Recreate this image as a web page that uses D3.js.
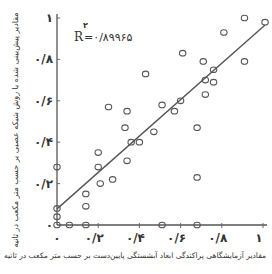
<!DOCTYPE html>
<html>
<head>
<meta charset="utf-8">
<script src="https://cdn.jsdelivr.net/npm/d3@7"></script>
<style>
html,body{margin:0;padding:0;background:#fff;}
svg{display:block;}
</style>
</head>
<body>
<script>
// Observed (laboratory) values
const xValues = [1.01,0.91,0.81,0.61,0.71,0.91,0.76,0.72,0.76,0.72,0.43,0.25,0.34,0.51,0.57,0.60,0.33,0.47,0.68,0.40,0.36,0.20,0.34,0.20,0.27,0.21,0.14,0.14,0.68,0,0,0,0,0.06,0.14,0.51,0.68];
// Predicted values
const yValues = [0.98,1.00,0.93,0.83,0.79,0.79,0.75,0.70,0.69,0.63,0.73,0.57,0.55,0.58,0.55,0.60,0.47,0.45,0.47,0.40,0.40,0.35,0.31,0.28,0.22,0.20,0.15,0.09,0.23,0.28,0.08,0.04,0.00,0,0,0,0];
const fitX = [0, 1.01];
const fitY = [0.078, 0.966];
const tickValues = [0, 0.2, 0.4, 0.6, 0.8, 1];
const tickLabels = ["۰", "۰/۲", "۰/۴", "۰/۶", "۰/۸", "۱"];
const r2Label = "=۰/۸۹۹۶۵";
const xTitle = "مقادیر آزمایشگاهی پراکندگی ابعاد آبشستگی پایین‌دست بر حسب متر مکعب در ثانیه";
const yTitle = "مقادیر پیش‌بینی شده با روش شبکه عصبی بر حسب متر مکعب در ثانیه";

const W = 272, H = 274;
const svg = d3.select("body").append("svg").attr("width", W).attr("height", H);

const x = d3.scaleLinear().domain([0, 1]).range([57, 263]);
const y = d3.scaleLinear().domain([0, 1]).range([225, 18]);
const ink = "#333";

// axes lines
svg.append("line").attr("x1", x(0)).attr("x2", 267).attr("y1", y(0)).attr("y2", y(0))
  .attr("stroke", "#555").attr("stroke-width", 1.3);
svg.append("line").attr("x1", x(0)).attr("x2", x(0)).attr("y1", y(0)).attr("y2", 14)
  .attr("stroke", "#555").attr("stroke-width", 1.3);

// ticks
svg.selectAll(".xt").data(tickValues.slice(1)).enter().append("line")
  .attr("x1", d => x(d)).attr("x2", d => x(d)).attr("y1", y(0) - 2).attr("y2", y(0) + 3)
  .attr("stroke", "#666").attr("stroke-width", 1);
svg.selectAll(".yt").data(tickValues.slice(1)).enter().append("line")
  .attr("x1", x(0)).attr("x2", x(0) + 3).attr("y1", d => y(d)).attr("y2", d => y(d))
  .attr("stroke", "#666").attr("stroke-width", 1);

// tick labels
svg.selectAll(".xl").data(tickValues).enter().append("text")
  .attr("x", d => x(d) - (d === 0 ? 0 : 4)).attr("y", 242)
  .attr("text-anchor", "middle").attr("direction", "ltr")
  .attr("font-family", "DejaVu Sans").attr("font-weight", "bold").attr("font-size", 12)
  .attr("fill", ink).text((d, i) => tickLabels[i]);
svg.selectAll(".yl").data(tickValues).enter().append("text")
  .attr("x", 53).attr("y", d => y(d) + 4)
  .attr("text-anchor", "end").attr("direction", "ltr")
  .attr("font-family", "DejaVu Sans").attr("font-weight", "bold").attr("font-size", 12)
  .attr("fill", ink).text((d, i) => tickLabels[i]);

// fit line
svg.append("line")
  .attr("x1", x(fitX[0])).attr("y1", y(fitY[0]))
  .attr("x2", x(fitX[1])).attr("y2", y(fitY[1]))
  .attr("stroke", "#555").attr("stroke-width", 1.4);

// points
svg.selectAll(".pt").data(xValues.map((v, i) => [v, yValues[i]])).enter().append("ellipse")
  .attr("cx", d => x(d[0])).attr("cy", d => y(d[1]))
  .attr("rx", 3.2).attr("ry", 2.8)
  .attr("fill", "none").attr("stroke", "#555").attr("stroke-width", 1.1);

// R2 annotation
svg.append("text").attr("x", 74).attr("y", 41)
  .attr("font-family", "DejaVu Serif").attr("font-size", 12).attr("fill", ink).text("R");
svg.append("text").attr("x", 83).attr("y", 28)
  .attr("font-family", "DejaVu Sans").attr("font-weight", "bold").attr("font-size", 8).attr("fill", ink).text("۲");
svg.append("text").attr("x", 84).attr("y", 41).attr("direction", "ltr")
  .attr("font-family", "DejaVu Sans").attr("font-size", 11).attr("fill", ink).text(r2Label);

// axis titles
svg.append("text").attr("x", 135).attr("y", 258).attr("text-anchor", "middle")
  .attr("font-family", "DejaVu Sans").attr("font-size", 7.5).attr("fill", ink)
  .attr("textLength", 262).attr("lengthAdjust", "spacingAndGlyphs").text(xTitle);
svg.append("text").attr("transform", "translate(18,130) rotate(-90)").attr("text-anchor", "middle")
  .attr("font-family", "DejaVu Sans").attr("font-size", 8).attr("fill", ink)
  .text(yTitle);
</script>
</body>
</html>
